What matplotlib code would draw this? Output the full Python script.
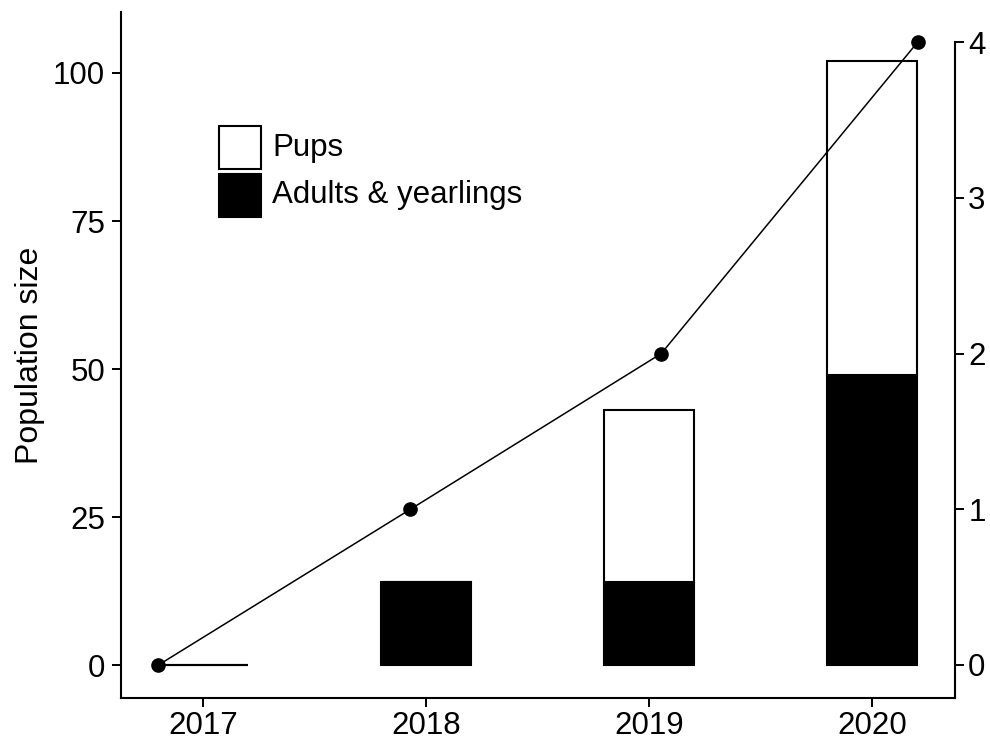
import numpy as np
import matplotlib
matplotlib.use("Agg")
from matplotlib import pyplot as plt
from matplotlib.patches import Rectangle

plt.rcParams['font.family'] = ['Liberation Sans', 'DejaVu Sans']

years = [2017, 2018, 2019, 2020]
adults = [0, 14, 14, 49]
pups = [0, 0, 29, 53]

# second series, placed on a continuous time axis
line_x = [2016.80, 2017.93, 2019.055, 2020.205]
line_y = [0, 1, 2, 4]

left_ticks = [0, 25, 50, 75, 100]
right_ticks = [0, 1, 2, 3, 4]

fs = 22.5

fig = plt.figure(figsize=(9.9, 7.42), dpi=100)
ax = fig.add_axes([0.1222, 0.0593, 0.8424, 0.9245])

ax.bar(years, adults, width=0.4, color="black", edgecolor="black", linewidth=1.5)
ax.bar(years, pups, width=0.4, bottom=adults, color="white", edgecolor="black",
       linewidth=1.5)

ax.set_xlim(2016.632, 2020.372)
ax.set_ylim(-5.57, 110.3)
ax.set_xticks(years)
ax.set_yticks(left_ticks)
ax.set_ylabel("Population size", fontsize=fs + 0.5, labelpad=6)
ax.tick_params(labelsize=fs, width=1.4, length=6.5, pad=5)
ax.tick_params(axis='x', pad=3)
ax.spines['top'].set_visible(False)
ax.spines['right'].set_visible(False)
for s in ('left', 'bottom'):
    ax.spines[s].set_linewidth(1.5)

ax2 = ax.twinx()
ax2.plot(line_x, line_y, color="black", linewidth=1.1, marker="o", markersize=9.5)
ax2.set_ylim(-0.212, 4.193)
ax2.set_yticks(right_ticks)
ax2.tick_params(labelsize=fs, width=1.4, length=6.5, pad=3)
ax2.spines['top'].set_visible(False)
ax2.spines['left'].set_visible(False)
ax2.spines['bottom'].set_visible(False)
ax2.spines['right'].set_bounds(-0.212, 4)
ax2.spines['right'].set_linewidth(1.5)

# legend keys drawn by hand so the boxes come out square
keys = [("Pups", "white", 0.7712, 0.8017),
        ("Adults & yearlings", "black", 0.7012, 0.7332)]
for label, fc, y0, ty in keys:
    ax.add_patch(Rectangle((0.1175, y0), 0.0504, 0.0625, transform=ax.transAxes,
                           facecolor=fc, edgecolor="black", linewidth=1.5,
                           clip_on=False, zorder=5))
    ax.text(0.181, ty, label, transform=ax.transAxes, fontsize=fs,
            va="center", ha="left")

fig.savefig("out.png", dpi=100)
